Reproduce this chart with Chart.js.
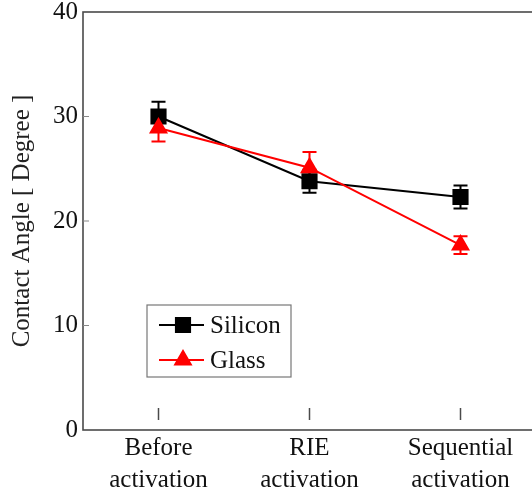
<!DOCTYPE html>
<html lang="en">

<head>
    <meta charset="UTF-8">
    <title>Contact Angle</title>
    <script src="https://cdn.jsdelivr.net/npm/chart.js"></script>
    <style>
        body { margin: 0; background: #fff; overflow: hidden; }
        .wrap { width: 532px; height: 490px; overflow: hidden; }
    </style>
</head>

<body>
    <div class="wrap">
        <!-- canvas mais largo: o lado direito da moldura fica cortado, como no original -->
        <canvas id="myChart" width="548" height="490"></canvas>
    </div>

<script type="text/javascript">
    // valores
    const labels = [["Before", "activation"], ["RIE", "activation"], ["Sequential", "activation"]]
    const silicon = [30.0, 23.8, 22.3]
    const siliconErr = [1.4, 1.1, 1.1]
    const glass = [28.9, 25.1, 17.7]
    const glassErr = [1.3, 1.5, 0.85]
    const yTicks = [0, 10, 20, 30, 40]

    const serif = "'Liberation Serif', 'DejaVu Serif', serif"
    const axisGray = '#4a4a4a'

    // barras de erro, moldura e marcas internas
    const extras = {
        id: 'extras',
        beforeDatasetsDraw(chart) {
            const ctx = chart.ctx
            const x = chart.scales.x
            const y = chart.scales.y
            const a = chart.chartArea
            ctx.save()
            // moldura
            ctx.strokeStyle = axisGray
            ctx.lineWidth = 1.6
            ctx.strokeRect(a.left, a.top, a.right - a.left, a.bottom - a.top)
            // marcas do eixo y (para dentro)
            ctx.strokeStyle = '#888'
            ctx.lineWidth = 1
            yTicks.forEach(function (v) {
                if (v == 0 || v == 40) return
                const py = y.getPixelForValue(v)
                ctx.beginPath()
                ctx.moveTo(a.left, py)
                ctx.lineTo(a.left + 6, py)
                ctx.stroke()
            })
            // marcas do eixo x (soltas, acima do eixo)
            ctx.strokeStyle = axisGray
            ctx.lineWidth = 1.5
            labels.forEach(function (l, i) {
                const px = x.getPixelForValue(i)
                ctx.beginPath()
                ctx.moveTo(px, a.bottom - 22)
                ctx.lineTo(px, a.bottom - 10)
                ctx.stroke()
            })
            // barras de erro
            chart.data.datasets.forEach(function (ds) {
                ctx.strokeStyle = ds.borderColor
                ctx.lineWidth = 2
                ds.data.forEach(function (v, i) {
                    const px = x.getPixelForValue(i)
                    const top = y.getPixelForValue(v + ds.err[i])
                    const bot = y.getPixelForValue(v - ds.err[i])
                    ctx.beginPath()
                    ctx.moveTo(px, top)
                    ctx.lineTo(px, bot)
                    ctx.moveTo(px - 7, top)
                    ctx.lineTo(px + 7, top)
                    ctx.moveTo(px - 7, bot)
                    ctx.lineTo(px + 7, bot)
                    ctx.stroke()
                })
            })
            ctx.restore()
        },
        afterDraw(chart) {
            // legenda dentro do grafico
            const ctx = chart.ctx
            const a = chart.chartArea
            const bx = a.left + 64
            const by = a.top + 293
            ctx.save()
            ctx.fillStyle = '#fff'
            ctx.fillRect(bx, by, 144, 72)
            ctx.strokeStyle = '#777'
            ctx.lineWidth = 1.2
            ctx.strokeRect(bx, by, 144, 72)
            const order = [1, 0]
            order.forEach(function (di, row) {
                const ds = chart.data.datasets[di]
                const ly = by + 20 + row * 35
                ctx.strokeStyle = ds.borderColor
                ctx.lineWidth = 2
                ctx.beginPath()
                ctx.moveTo(bx + 12, ly)
                ctx.lineTo(bx + 57, ly)
                ctx.stroke()
                Chart.helpers.drawPoint(ctx, {
                    pointStyle: ds.pointStyle,
                    radius: ds.pointRadius,
                    borderWidth: 1
                }, bx + 36, ly)
                ctx.fillStyle = ds.borderColor
                ctx.fill()
                ctx.fillStyle = '#111'
                ctx.font = "25px " + serif
                ctx.textBaseline = 'middle'
                ctx.fillText(ds.label, bx + 63, ly + 1)
            })
            ctx.restore()
        }
    }

    const data = {
        labels: labels,
        datasets: [
            {
                label: 'Glass',
                data: glass,
                err: glassErr,
                borderColor: '#ff0000',
                backgroundColor: '#ff0000',
                pointStyle: 'triangle',
                pointRadius: 9,
                borderWidth: 2,
                order: 1
            },
            {
                label: 'Silicon',
                data: silicon,
                err: siliconErr,
                borderColor: '#000000',
                backgroundColor: '#000000',
                pointStyle: 'rect',
                pointRadius: 10,
                borderWidth: 2,
                order: 2
            }
        ]
    }

    const config = {
        type: 'line',
        data: data,
        plugins: [extras],
        options: {
            responsive: false,
            animation: false,
            layout: { padding: { left: 0, top: 11, right: 0, bottom: 0 } },
            scales: {
                x: {
                    offset: true,
                    grid: { display: false, drawTicks: false },
                    border: { display: false },
                    ticks: {
                        color: '#111',
                        padding: 2,
                        maxRotation: 0,
                        autoSkip: false,
                        font: { family: serif, size: 25, lineHeight: 1.28 }
                    },
                    afterFit(scale) {
                        scale.height = 60
                        scale.paddingLeft = 0
                        scale.paddingRight = 0
                    }
                },
                y: {
                    min: 0,
                    max: 40,
                    afterBuildTicks(scale) {
                        scale.ticks = yTicks.map(function (v) { return { value: v } })
                    },
                    grid: { display: false, drawTicks: false },
                    border: { display: false },
                    ticks: {
                        color: '#111',
                        padding: 5,
                        font: { family: serif, size: 25 }
                    },
                    title: {
                        display: true,
                        text: 'Contact Angle [ Degree ]',
                        color: '#222',
                        padding: { top: 7, bottom: 0 },
                        font: { family: serif, size: 25 }
                    },
                    afterFit(scale) {
                        scale.width = 83
                        scale.paddingTop = 0
                        scale.paddingBottom = 0
                    }
                }
            },
            plugins: {
                legend: { display: false },
                tooltip: { enabled: false }
            }
        }
    }

    const myChart = new Chart(document.getElementById('myChart'), config)
</script>
</body>

</html>
